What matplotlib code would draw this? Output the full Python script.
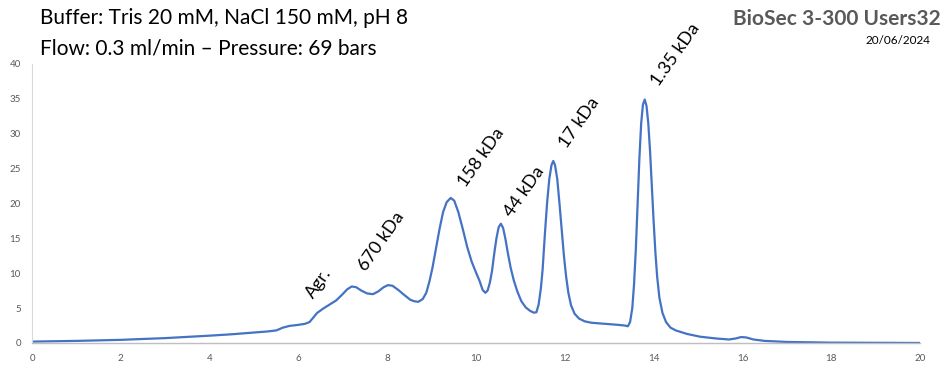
import numpy as np
import matplotlib.pyplot as plt

plt.rcParams['font.family'] = ['Lato', 'DejaVu Sans']

# chromatogram trace (elution volume in ml, absorbance)
elution = [0, 1, 2, 3, 4, 4.5, 5, 5.3, 5.5, 5.65, 5.8, 6.0, 6.15, 6.25, 6.33,
           6.42, 6.55, 6.7, 6.85, 6.98, 7.1, 7.2, 7.3, 7.42, 7.55, 7.68, 7.8,
           7.92, 8.02, 8.12, 8.25, 8.4, 8.52, 8.6, 8.7, 8.8, 8.88, 8.95, 9.02,
           9.1, 9.18, 9.26, 9.34, 9.43, 9.51, 9.6, 9.7, 9.8, 9.9, 10.0, 10.08,
           10.15, 10.21, 10.26, 10.31, 10.36, 10.41, 10.46, 10.51, 10.56, 10.61,
           10.66, 10.72, 10.78, 10.85, 10.93, 11.02, 11.12, 11.22, 11.3, 11.36,
           11.41, 11.46, 11.5, 11.55, 11.6, 11.65, 11.7, 11.74, 11.78, 11.83,
           11.88, 11.93, 11.98, 12.03, 12.08, 12.14, 12.22, 12.32, 12.45, 12.6,
           12.8, 13.0, 13.2, 13.35, 13.42, 13.47, 13.52, 13.56, 13.6, 13.64,
           13.68, 13.72, 13.76, 13.8, 13.84, 13.88, 13.92, 13.96, 14.0, 14.04,
           14.08, 14.13, 14.2, 14.28, 14.38, 14.5, 14.75, 15.05, 15.4, 15.7,
           15.85, 15.97, 16.08, 16.25, 16.5, 17, 18, 19, 20]
signal = [0.2, 0.3, 0.45, 0.7, 1.05, 1.25, 1.5, 1.65, 1.8, 2.2, 2.45, 2.6, 2.75,
          3.0, 3.6, 4.3, 4.9, 5.5, 6.1, 6.9, 7.7, 8.1, 8.0, 7.5, 7.1, 7.0, 7.4,
          8.0, 8.3, 8.2, 7.6, 6.8, 6.2, 6.0, 5.9, 6.3, 7.2, 8.8, 10.8, 13.6,
          16.4, 18.8, 20.2, 20.8, 20.4, 18.8, 16.4, 13.8, 11.7, 10.1, 8.9, 7.6,
          7.2, 7.5, 8.6, 10.3, 12.8, 15.0, 16.6, 17.1, 16.5, 15.0, 12.8, 10.8,
          9.0, 7.4, 6.0, 5.1, 4.6, 4.35, 4.4, 5.5, 7.8, 10.5, 15.5, 20.0, 23.5,
          25.5, 26.1, 25.5, 23.5, 20.0, 16.3, 12.5, 9.5, 7.2, 5.4, 4.2, 3.5, 3.1,
          2.9, 2.8, 2.7, 2.6, 2.5, 2.4, 3.0, 5.0, 8.5, 13.5, 20.0, 26.5, 31.5,
          34.2, 34.9, 34.0, 31.5, 27.5, 22.5, 17.5, 13.0, 9.5, 6.5, 4.3, 3.0,
          2.2, 1.8, 1.3, 0.9, 0.65, 0.5, 0.65, 0.85, 0.8, 0.5, 0.3, 0.15, 0.05,
          0.02, 0.0]

# peak labels
peak_labels = ['Agr.', '670 kDa', '158 kDa', '44 kDa', '17 kDa', '1.35 kDa']
label_x = [6.4, 7.58, 9.82, 10.87, 12.1, 14.17]
label_y = [6.0, 10.0, 22.0, 17.7, 27.5, 36.4]

fig = plt.figure(figsize=(9.47, 3.76), dpi=100)
ax = fig.add_axes([0.0338, 0.0878, 0.9377, 0.742])

ax.plot(elution, signal, color='#4472C4', linewidth=1.6)

for lab, lx, ly in zip(peak_labels, label_x, label_y):
    ax.text(lx, ly, lab, rotation=55, rotation_mode='anchor', ha='left',
            va='bottom', fontsize=13, color='black', clip_on=False)

ax.set_xlim(0, 20)
ax.set_ylim(0, 40)
ax.set_xticks(np.arange(0, 21, 2))
ax.set_yticks(np.arange(0, 41, 5))
ax.tick_params(axis='both', length=0, labelsize=7, colors='#595959', pad=8)
for s in ['top', 'right']:
    ax.spines[s].set_visible(False)
ax.spines['left'].set_color('#D9D9D9')
ax.spines['bottom'].set_color('#BFBFBF')
ax.spines['left'].set_linewidth(0.8)
ax.spines['bottom'].set_linewidth(1.0)

fig.text(0.042, 0.952, 'Buffer: Tris 20 mM, NaCl 150 mM, pH 8', fontsize=15,
         ha='left', va='center')
fig.text(0.042, 0.872, 'Flow: 0.3 ml/min \u2013 Pressure: 69 bars', fontsize=15,
         ha='left', va='center')
fig.text(0.993, 0.950, 'BioSec 3-300 Users32', fontsize=15, fontweight='bold',
         color='#595959', ha='right', va='center')
fig.text(0.983, 0.893, '20/06/2024', fontsize=8.5, ha='right', va='center')

fig.savefig('out.png', dpi=100)
